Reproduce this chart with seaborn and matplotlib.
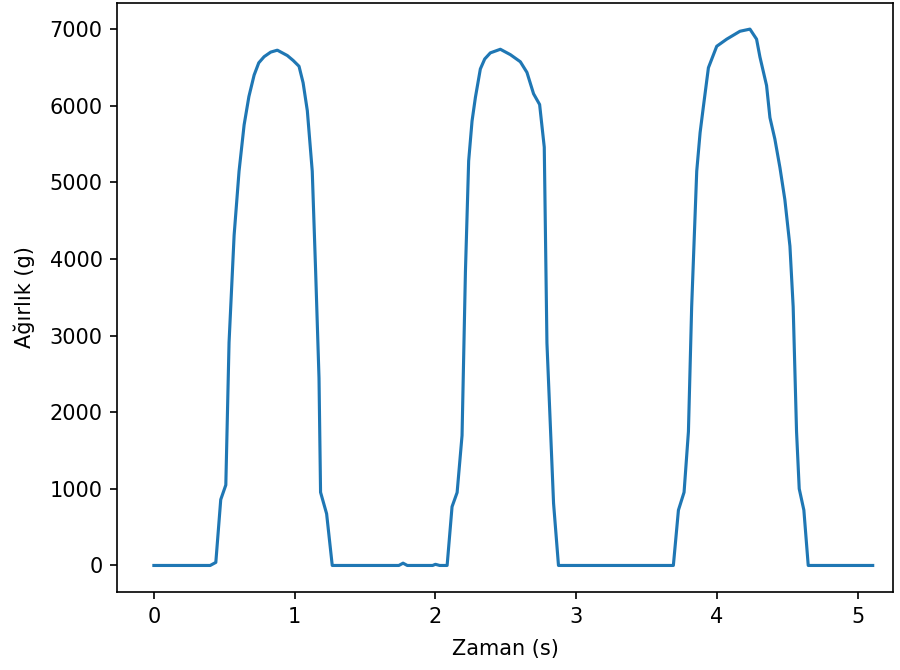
import matplotlib
matplotlib.use("Agg")
import matplotlib.pyplot as plt
import seaborn as sns
import pandas as pd

# time (s) and weight (g)
zaman = [0.00, 0.20, 0.40, 0.44, 0.475, 0.511, 0.534, 0.570, 0.605, 0.641, 0.675,
         0.712, 0.745, 0.783, 0.830, 0.877, 0.948, 0.990, 1.031, 1.060, 1.090,
         1.125, 1.149, 1.173, 1.184, 1.227, 1.267, 1.50, 1.74, 1.77, 1.80,
         1.98, 2.00, 2.03, 2.083, 2.118, 2.154, 2.189, 2.213, 2.236, 2.260,
         2.284, 2.319, 2.350, 2.390, 2.461, 2.532, 2.603, 2.650, 2.697, 2.740,
         2.773, 2.792, 2.839, 2.874, 3.20, 3.50, 3.690, 3.726, 3.766, 3.797,
         3.820, 3.856, 3.880, 3.903, 3.939, 3.998, 4.069, 4.163, 4.234, 4.281,
         4.305, 4.352, 4.376, 4.411, 4.447, 4.482, 4.518, 4.541, 4.565, 4.584,
         4.617, 4.648, 4.90, 5.106]
agirlik = [0, 0, 0, 40, 860, 1050, 2910, 4310, 5145, 5750, 6120,
           6400, 6560, 6640, 6700, 6725, 6655, 6590, 6515, 6300, 5935,
           5145, 3840, 2445, 955, 675, 0, 0, 0, 30, 0,
           0, 15, 0, 0, 767, 952, 1696, 3833, 5280, 5800,
           6110, 6480, 6610, 6690, 6737, 6667, 6574, 6435, 6156, 6016,
           5459, 2904, 813, 0, 0, 0, 0, 722, 955, 1746,
           3376, 5146, 5650, 5984, 6496, 6776, 6869, 6972, 7000, 6869,
           6636, 6264, 5845, 5565, 5193, 4774, 4168, 3376, 1746, 1001,
           722, 0, 0, 0]

df = pd.DataFrame({"Zaman": zaman, "Agirlik": agirlik})

fig, ax = plt.subplots(figsize=(6.0, 670 / 150), dpi=150)
sns.lineplot(x="Zaman", y="Agirlik", data=df, sort=False, color="tab:blue",
             linewidth=1.5, ax=ax)
ax.set_xlabel("Zaman (s)", labelpad=6)
ax.set_ylabel("Ağırlık (g)", labelpad=7)
ax.set_xlim(-0.26, 5.25)
ax.set_ylim(-350, 7345)
fig.subplots_adjust(left=0.1303, right=0.9922, top=0.996, bottom=0.116)
fig.savefig("out.png", dpi=150)
